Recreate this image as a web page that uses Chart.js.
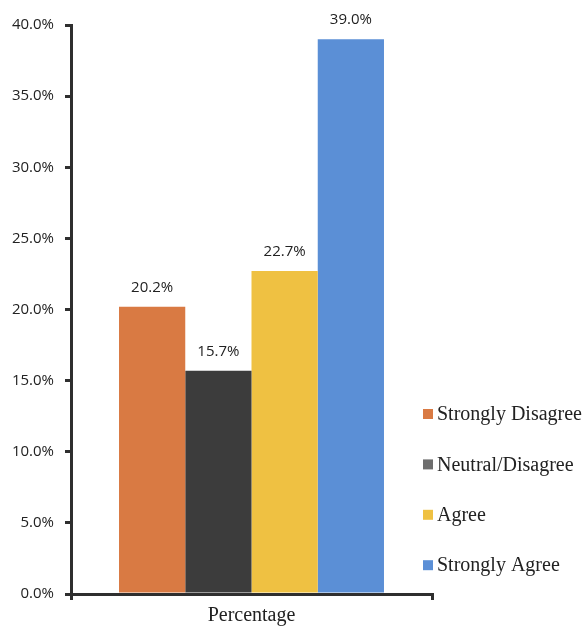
<!DOCTYPE html>
<html>
<head>
<meta charset="utf-8">
<script src="https://cdn.jsdelivr.net/npm/chart.js@4/dist/chart.umd.min.js"></script>
<style>
  html, body { margin: 0; padding: 0; background: #ffffff; }
  #wrap { width: 584px; height: 628px; }
</style>
</head>
<body>
<div id="wrap"><canvas id="chart" width="584" height="628"></canvas></div>
<script>
// Survey response shares, one group with four answer levels
const categories = ['Percentage'];
const seriesNames = ['Strongly Disagree', 'Neutral/Disagree', 'Agree', 'Strongly Agree'];
const seriesValues = [20.2, 15.7, 22.7, 39.0];
const seriesColors = ['#D97A43', '#3C3C3C', '#EFC142', '#5B8FD6'];
const legendColors = ['#D97A43', '#6E6E6E', '#EFC142', '#5B8FD6'];
const yTickMin = 0;
const yTickMax = 40;
const yTickStep = 5;

const datasets = seriesNames.map((name, i) => ({
  label: name,
  data: [seriesValues[i]],
  backgroundColor: seriesColors[i],
  borderWidth: 0,
  categoryPercentage: 0.734,
  barPercentage: 1.0
}));

// Value labels above each bar
const valueLabels = {
  id: 'valueLabels',
  afterDatasetsDraw(chart) {
    const ctx = chart.ctx;
    ctx.save();
    ctx.font = '15px "Open Sans", sans-serif';
    ctx.fillStyle = '#222222';
    ctx.textAlign = 'center';
    ctx.textBaseline = 'middle';
    chart.data.datasets.forEach((ds, i) => {
      const meta = chart.getDatasetMeta(i);
      meta.data.forEach((bar, j) => {
        const v = ds.data[j];
        ctx.fillText(v.toFixed(1) + '%', bar.x, bar.y - 19);
      });
    });
    ctx.restore();
  }
};

// Legend stacked at the lower right, beside the plot
const sideLegend = {
  id: 'sideLegend',
  afterDraw(chart) {
    const ctx = chart.ctx;
    const x0 = chart.chartArea.right - 9;
    const firstY = 414;
    const gap = 50.4;
    ctx.save();
    ctx.font = '20px "Liberation Serif", "Times New Roman", serif';
    ctx.textAlign = 'left';
    ctx.textBaseline = 'middle';
    chart.data.datasets.forEach((ds, i) => {
      const y = firstY + i * gap;
      ctx.fillStyle = legendColors[i];
      ctx.fillRect(x0, y - 5, 10, 10);
      ctx.fillStyle = '#222222';
      ctx.fillText(ds.label, x0 + 14, y + 1);
    });
    ctx.restore();
  }
};

new Chart(document.getElementById('chart'), {
  type: 'bar',
  data: { labels: categories, datasets: datasets },
  options: {
    responsive: false,
    devicePixelRatio: 1,
    animation: false,
    layout: { padding: { top: 25, right: 152, bottom: 0, left: 0 } },
    plugins: {
      legend: { display: false },
      tooltip: { enabled: false }
    },
    scales: {
      x: {
        afterFit(scale) { scale.height = 34; },
        grid: {
          display: true,
          offset: true,
          drawOnChartArea: false,
          drawTicks: true,
          tickLength: 6,
          color: '#2f2f2f',
          lineWidth: 3
        },
        border: { display: true, color: '#2f2f2f', width: 3 },
        ticks: {
          padding: 4,
          color: '#222222',
          font: { family: '"Liberation Serif", "Times New Roman", serif', size: 20 }
        }
      },
      y: {
        min: yTickMin,
        max: yTickMax,
        afterFit(scale) { scale.width = 71; },
        grid: {
          display: true,
          drawOnChartArea: false,
          drawTicks: true,
          tickLength: 6,
          color: '#2f2f2f',
          lineWidth: 3
        },
        border: { display: true, color: '#2f2f2f', width: 3 },
        ticks: {
          stepSize: yTickStep,
          padding: 11,
          color: '#222222',
          font: { family: '"Open Sans", sans-serif', size: 15 },
          callback: (v) => Number(v).toFixed(1) + '%'
        }
      }
    }
  },
  plugins: [valueLabels, sideLegend]
});
</script>
</body>
</html>
